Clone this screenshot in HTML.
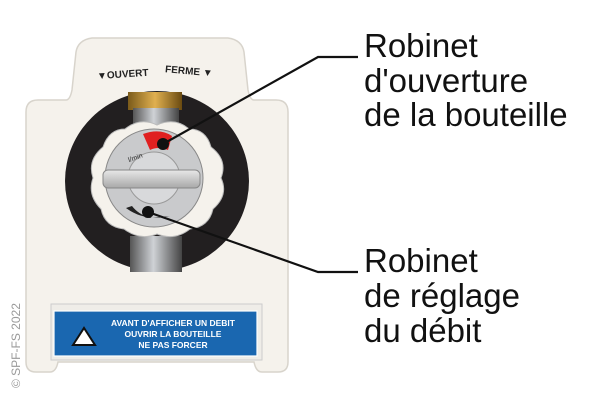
<!DOCTYPE html>
<html><head><meta charset="utf-8"><style>
html,body{margin:0;padding:0;background:#fff;width:600px;height:400px;overflow:hidden}
</style></head><body>
<svg width="600" height="400" viewBox="0 0 600 400" xmlns="http://www.w3.org/2000/svg" font-family="Liberation Sans, sans-serif">
<defs>
<linearGradient id="pipe" x1="0" x2="1"><stop offset="0" stop-color="#555"/><stop offset="0.45" stop-color="#cfd2d6"/><stop offset="1" stop-color="#444"/></linearGradient>
<linearGradient id="brass" x1="0" x2="1"><stop offset="0" stop-color="#7a5a1a"/><stop offset="0.5" stop-color="#e0b050"/><stop offset="1" stop-color="#6a4a10"/></linearGradient>
<linearGradient id="bar" y1="0" y2="1" x1="0" x2="0"><stop offset="0" stop-color="#e8e8e8"/><stop offset="1" stop-color="#a8a8a8"/></linearGradient>
</defs>
<path d="M38 100 H66 Q70 100 72 90 L76 52 Q78 40 92 38 H228 Q242 40 244 52 L248 90 Q250 100 254 100 H276 Q288 100 288 112 V362 Q288 372 278 372 H262 Q256 372 254 362 H58 Q56 372 50 372 H36 Q26 372 26 362 V112 Q26 100 38 100 Z" fill="#f5f2ec" stroke="#d8d4cc" stroke-width="1.5"/>
<text x="97" y="78" font-size="10" font-weight="bold" fill="#222" transform="rotate(-4 115 75)">▼OUVERT</text>
<text x="165" y="74" font-size="10" font-weight="bold" fill="#222" transform="rotate(5 185 72)">FERME ▼</text>
<ellipse cx="157" cy="181" rx="92" ry="90" fill="#221f20"/>
<rect x="128" y="92" width="54" height="18" fill="url(#brass)"/>
<rect x="133" y="108" width="46" height="30" fill="url(#pipe)"/>
<rect x="130" y="236" width="52" height="36" fill="url(#pipe)"/>
<rect x="50" y="272" width="220" height="30" fill="#f5f2ec"/>
<path d="M157 125 Q175 117 189 129 Q206 129 211 147 Q228 160 221 178 Q229 195 213 209 Q209 227 190 229 Q175 241 157 234 Q140 241 124 229 Q105 227 101 209 Q87 195 93 178 Q87 160 103 147 Q109 129 125 129 Q140 117 157 125 Z" fill="#f5f2ec" stroke="#bbb"/>
<circle cx="154" cy="178" r="49" fill="#c9cacc" stroke="#888"/>
<circle cx="154" cy="178" r="26" fill="#d8d9db" stroke="#999"/>
<rect x="103" y="170" width="97" height="18" rx="5" fill="url(#bar)" stroke="#888"/>
<path d="M143 134 Q160 128 172 136 L168 150 Q158 146 150 150 Z" fill="#e02020"/>
<text x="128" y="160" font-size="7" fill="#333" transform="rotate(-20 135 158)">l/min</text>
<path d="M126 208 Q145 222 170 216 L150 218 Q138 214 132 206 Z" fill="#222"/>
<g stroke="#111" stroke-width="2.2" fill="none">
<polyline points="163,144 318,57 358,57"/>
<polyline points="148,212 318,272 358,272"/>
</g>
<circle cx="163" cy="144" r="6" fill="#111"/>
<circle cx="148" cy="212" r="6" fill="#111"/>
<rect x="51" y="304" width="211" height="56" fill="#efede8" stroke="#ccc"/>
<rect x="54" y="311" width="203" height="45" fill="#1a67b0" stroke="#fff" stroke-width="1.2"/>
<path d="M73 345 L84 328 L95 345 Z" fill="#fff" stroke="#111" stroke-width="2"/>
<g fill="#fff" font-size="8.5" font-weight="bold" text-anchor="middle">
<text x="173" y="326">AVANT D'AFFICHER UN DEBIT</text>
<text x="173" y="337">OUVRIR LA BOUTEILLE</text>
<text x="173" y="348">NE PAS FORCER</text>
</g>
<text x="20" y="388" font-size="12" fill="#999" transform="rotate(-90 20 388)">© SPF-FS 2022</text>
<g font-size="33" fill="#111">
<text x="364" y="57">Robinet</text>
<text x="364" y="92">d'ouverture</text>
<text x="364" y="126">de la bouteille</text>
<text x="364" y="272">Robinet</text>
<text x="364" y="307">de réglage</text>
<text x="364" y="342">du débit</text>
</g>
</svg>
</body></html>
